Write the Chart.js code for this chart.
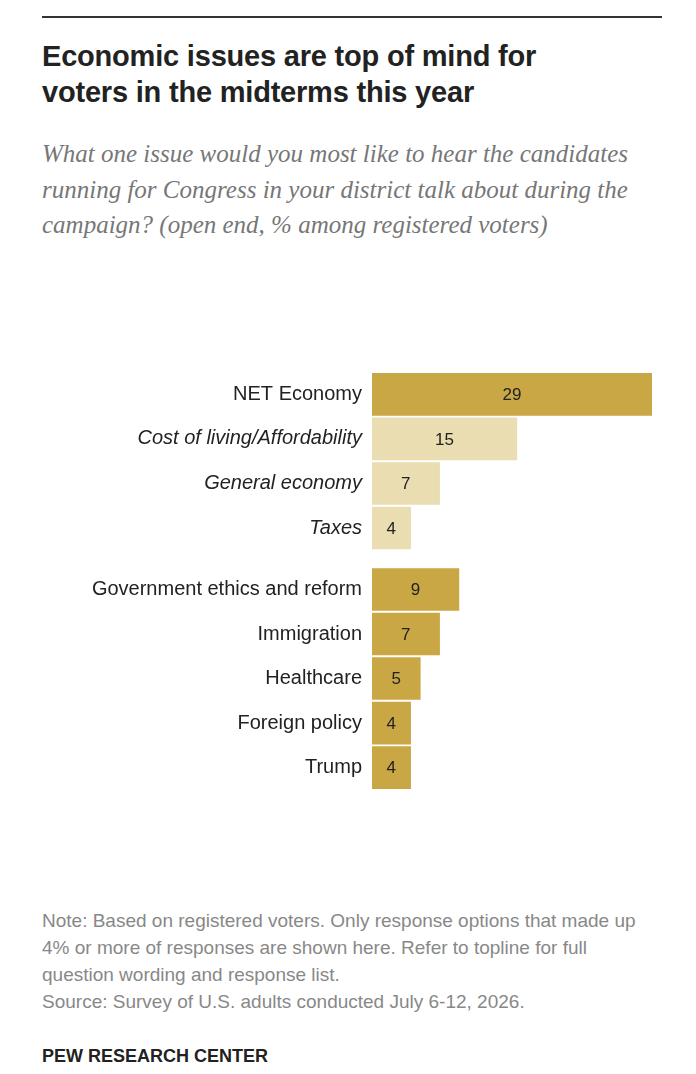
<!DOCTYPE html>
<html lang="en">
<head>
<meta charset="UTF-8">
<title>Economic issues</title>
<script src="https://cdn.jsdelivr.net/npm/chart.js"></script>
<style>
  body { margin:0; width:696px; height:1074px; background:#fff; font-family:"Liberation Sans", Arial, sans-serif; position:relative; }
  .rule { position:absolute; left:42px; top:16px; width:620px; border-top:2px solid #333; }
  h1 { position:absolute; left:42px; top:38px; margin:0; font-size:29px; line-height:36px; color:#222; font-weight:bold; width:580px; letter-spacing:-0.2px; }
  .sub { position:absolute; left:42px; top:136px; margin:0; font-size:25px; line-height:35.5px; color:#777; font-style:italic; width:600px; font-family:"Liberation Serif", serif; }
  #grafico { position:absolute; left:0; top:332px; }
  .note { position:absolute; left:42px; top:907px; font-size:19px; line-height:27px; color:#888; width:620px; }
  .pew { position:absolute; left:42px; top:1046px; font-size:18px; font-weight:bold; color:#222; }
</style>
</head>
<body>
<div class="rule"></div>
<h1>Economic issues are top of mind for voters in the midterms this year</h1>
<p class="sub">What one issue would you most like to hear the candidates running for Congress in your district talk about during the campaign? (open end, % among registered voters)</p>
<canvas id="grafico" width="696" height="498"></canvas>
<div class="note">Note: Based on registered voters. Only response options that made up 4% or more of responses are shown here. Refer to topline for full question wording and response list.<br>Source: Survey of U.S. adults conducted July 6-12, 2026.</div>
<div class="pew">PEW RESEARCH CENTER</div>

<script>
var categorias = ['NET Economy', 'Cost of living/Affordability', 'General economy', 'Taxes',
  'Government ethics and reform', 'Immigration', 'Healthcare', 'Foreign policy', 'Trump'];
var valores = [29, 15, 7, 4, 9, 7, 5, 4, 4];
var posicoes = [0, 1, 2, 3, 4.38, 5.38, 6.38, 7.38, 8.38];
var subitem = [false, true, true, true, false, false, false, false, false];

var escuro = '#C9A745';
var claro = '#E9DDB1';

var pontos = valores.map(function(v, i) { return { x: v, y: posicoes[i] }; });

var rotulos = {
  id: 'rotulos',
  afterDatasetsDraw: function(chart) {
    var ctx = chart.ctx;
    var meta = chart.getDatasetMeta(0);
    ctx.save();
    ctx.font = '17px "Liberation Sans", Arial, sans-serif';
    ctx.fillStyle = '#222';
    ctx.textAlign = 'center';
    ctx.textBaseline = 'middle';
    meta.data.forEach(function(bar, i) {
      ctx.fillText(valores[i], (bar.x + bar.base) / 2, bar.y + 1);
    });
    ctx.restore();
  }
};

new Chart(document.getElementById('grafico'), {
  type: 'bar',
  data: {
    datasets: [{
      data: pontos,
      backgroundColor: subitem.map(function(s) { return s ? claro : escuro; }),
      barThickness: 42
    }]
  },
  options: {
    indexAxis: 'y',
    responsive: false,
    animation: false,
    layout: { padding: { left: 0, right: 44, top: 0, bottom: 0 } },
    plugins: { legend: { display: false }, tooltip: { enabled: false } },
    scales: {
      x: { type: 'linear', min: 0, max: 29, display: false },
      y: {
        type: 'linear', min: -0.5, max: 8.88, reverse: true,
        grid: { display: false }, border: { display: false },
        afterBuildTicks: function(scale) {
          scale.ticks = posicoes.map(function(p) { return { value: p }; });
        },
        afterFit: function(scale) { scale.width = 372; },
        ticks: {
          padding: 2,
          color: '#222',
          autoSkip: false,
          callback: function(value) { return categorias[posicoes.indexOf(value)]; },
          font: function(c) {
            var i = c.index;
            return { family: '"Liberation Sans", Arial, sans-serif', size: 20, style: subitem[i] ? 'italic' : 'normal' };
          }
        }
      }
    }
  },
  plugins: [rotulos]
});
</script>
</body>
</html>
